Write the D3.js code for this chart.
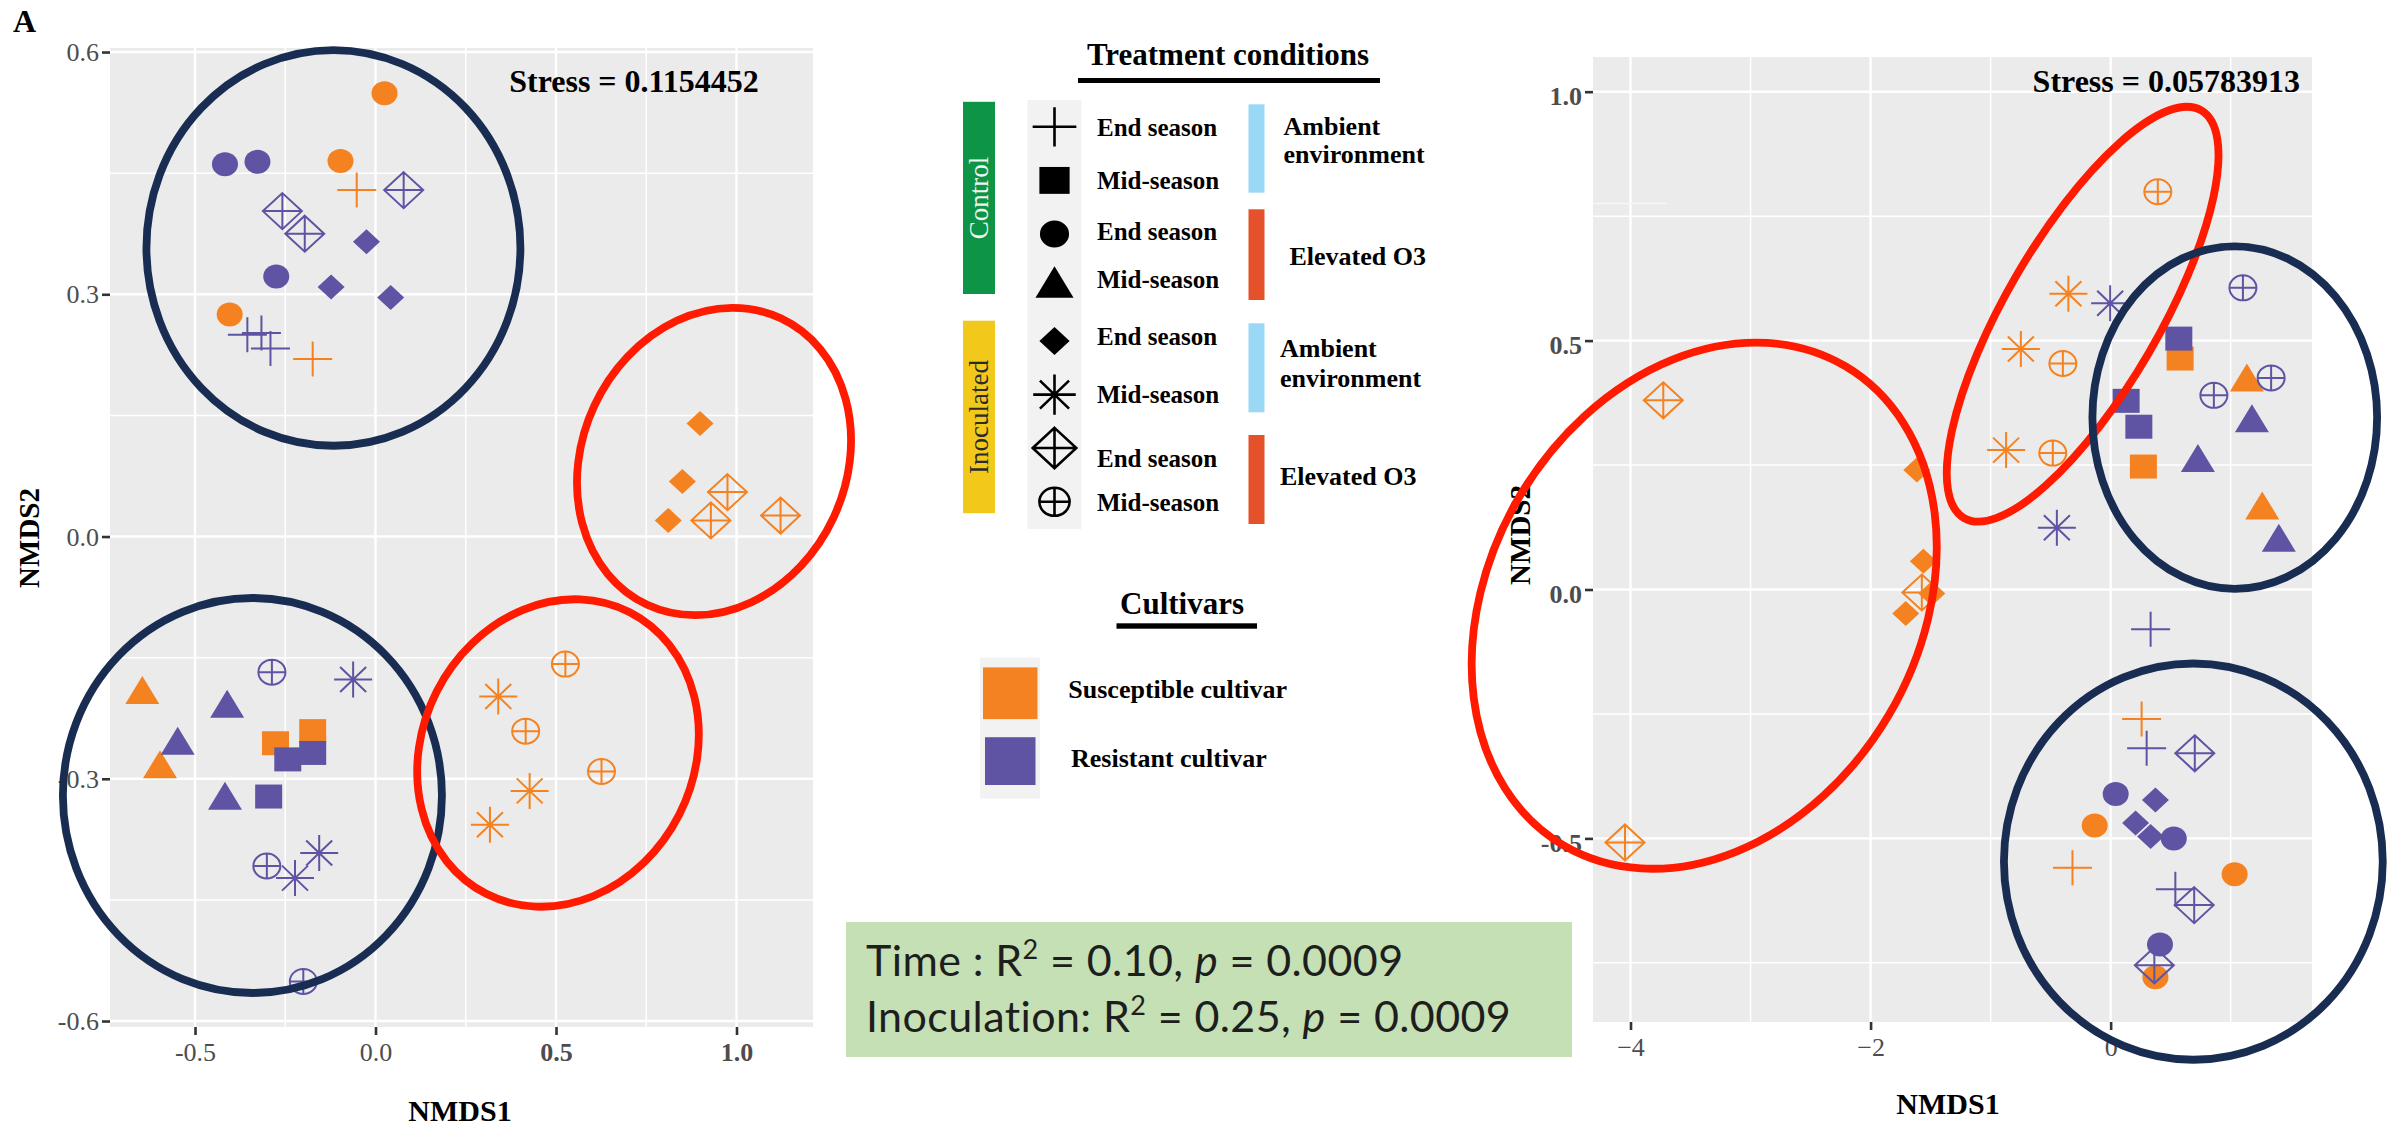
<!DOCTYPE html>
<html>
<head>
<meta charset="utf-8">
<script src="https://cdn.jsdelivr.net/npm/d3@7"></script>
<style>
  body { margin: 0; background: #fff; }
  svg { display: block; }
</style>
</head>
<body>
<svg id="chart" width="2387" height="1127"></svg>
<script>
const width = 2387
const height = 1127

const serif = '"Liberation Serif", "Times New Roman", serif'

// cultivar colours
const cultivarNames = ['Susceptible cultivar', 'Resistant cultivar']
const cultivarColors = { S: '#f58220', R: '#5e54a3' }

// points: [NMDS1, NMDS2, cultivar, shape]
const leftPoints = [
  [0.025, 0.549, 'S', 'circle'], [-0.097, 0.465, 'S', 'circle'], [-0.404, 0.275, 'S', 'circle'],
  [-0.052, 0.429, 'S', 'plus'], [-0.174, 0.220, 'S', 'plus'],
  [0.899, 0.140, 'S', 'diamond'], [0.850, 0.068, 'S', 'diamond'], [0.811, 0.020, 'S', 'diamond'],
  [0.975, 0.055, 'S', 'diamondPlus'], [0.929, 0.020, 'S', 'diamondPlus'], [1.122, 0.026, 'S', 'diamondPlus'],
  [-0.646, -0.190, 'S', 'triangle'], [-0.597, -0.282, 'S', 'triangle'],
  [-0.277, -0.256, 'S', 'square'], [-0.174, -0.241, 'S', 'square'],
  [0.526, -0.158, 'S', 'circlePlus'], [0.416, -0.241, 'S', 'circlePlus'], [0.626, -0.291, 'S', 'circlePlus'],
  [0.340, -0.198, 'S', 'asterisk'], [0.427, -0.315, 'S', 'asterisk'], [0.317, -0.357, 'S', 'asterisk'],
  [-0.417, 0.461, 'R', 'circle'], [-0.327, 0.464, 'R', 'circle'], [-0.275, 0.322, 'R', 'circle'],
  [0.078, 0.429, 'R', 'diamondPlus'], [-0.258, 0.403, 'R', 'diamondPlus'], [-0.196, 0.375, 'R', 'diamondPlus'],
  [-0.025, 0.365, 'R', 'diamond'], [-0.123, 0.309, 'R', 'diamond'], [0.042, 0.296, 'R', 'diamond'],
  [-0.355, 0.250, 'R', 'plus'], [-0.316, 0.252, 'R', 'plus'], [-0.291, 0.233, 'R', 'plus'],
  [-0.287, -0.168, 'R', 'circlePlus'], [-0.301, -0.408, 'R', 'circlePlus'], [-0.200, -0.551, 'R', 'circlePlus'],
  [-0.062, -0.177, 'R', 'asterisk'], [-0.223, -0.423, 'R', 'asterisk'], [-0.156, -0.392, 'R', 'asterisk'],
  [-0.411, -0.207, 'R', 'triangle'], [-0.548, -0.253, 'R', 'triangle'], [-0.417, -0.321, 'R', 'triangle'],
  [-0.243, -0.276, 'R', 'square'], [-0.174, -0.268, 'R', 'square'], [-0.296, -0.322, 'R', 'square']
]

const rightPoints = [
  [0.393, 0.799, 'S', 'circlePlus'], [-0.398, 0.454, 'S', 'circlePlus'], [-0.482, 0.274, 'S', 'circlePlus'],
  [-0.352, 0.594, 'S', 'asterisk'], [-0.748, 0.483, 'S', 'asterisk'], [-0.871, 0.280, 'S', 'asterisk'],
  [0.579, 0.464, 'S', 'square'], [0.273, 0.247, 'S', 'square'],
  [1.135, 0.426, 'S', 'triangle'], [1.263, 0.169, 'S', 'triangle'],
  [-1.615, 0.240, 'S', 'diamond'], [-1.560, 0.057, 'S', 'diamond'], [-1.490, -0.008, 'S', 'diamond'], [-1.707, -0.048, 'S', 'diamond'],
  [-3.727, 0.380, 'S', 'diamondPlus'], [-1.573, -0.006, 'S', 'diamondPlus'], [-4.046, -0.508, 'S', 'diamondPlus'],
  [0.258, -0.260, 'S', 'plus'], [-0.318, -0.559, 'S', 'plus'],
  [-0.133, -0.474, 'S', 'circle'], [1.033, -0.572, 'S', 'circle'], [0.373, -0.779, 'S', 'circle'],
  [-0.004, 0.575, 'R', 'asterisk'], [-0.448, 0.124, 'R', 'asterisk'],
  [1.102, 0.606, 'R', 'circlePlus'], [0.860, 0.390, 'R', 'circlePlus'], [1.337, 0.425, 'R', 'circlePlus'],
  [0.568, 0.504, 'R', 'square'], [0.129, 0.379, 'R', 'square'], [0.235, 0.327, 'R', 'square'],
  [1.177, 0.344, 'R', 'triangle'], [0.727, 0.264, 'R', 'triangle'], [1.401, 0.104, 'R', 'triangle'],
  [0.333, -0.080, 'R', 'plus'], [0.300, -0.319, 'R', 'plus'], [0.539, -0.602, 'R', 'plus'],
  [0.701, -0.329, 'R', 'diamondPlus'], [0.696, -0.634, 'R', 'diamondPlus'], [0.364, -0.755, 'R', 'diamondPlus'],
  [0.042, -0.411, 'R', 'circle'], [0.526, -0.500, 'R', 'circle'], [0.411, -0.713, 'R', 'circle'],
  [0.373, -0.423, 'R', 'diamond'], [0.208, -0.469, 'R', 'diamond'], [0.333, -0.496, 'R', 'diamond']
]

// group ellipses: [cx, cy, rx, ry (data units), rotation in degrees, colour]
const leftEllipses = [
  [-0.1166, 0.3574, 0.518, 0.245, 0, 'navy'],
  [-0.341, -0.3207, 0.525, 0.2446, 0, 'navy'],
  [0.9377, 0.0929, 0.3657, 0.1957, 25, 'red'],
  [0.5055, -0.2681, 0.3767, 0.1957, 27, 'red']
]
const rightEllipses = [
  [-3.386, -0.0325, 1.7875, 0.5583, 30.5, 'red'],
  [-0.2333, 0.553, 0.639, 0.4737, 30.2, 'red'],
  [1.034, 0.3453, 1.186, 0.344, 0, 'navy'],
  [0.689, -0.5466, 1.578, 0.398, 0, 'navy']
]

const leftXTicks = [-0.5, 0, 0.5, 1.0]
const leftYTicks = [-0.6, -0.3, 0, 0.3, 0.6]
const rightXTicks = [-4, -2, 0]
const rightYTicks = [-0.5, 0, 0.5, 1.0]

const leftStress = 'Stress = 0.1154452'
const rightStress = 'Stress = 0.05783913'

// legend content
const treatmentShapes = ['plus', 'square', 'circle', 'triangle', 'diamond', 'asterisk', 'diamondPlus', 'circlePlus']
const treatmentLabels = ['End season', 'Mid-season', 'End season', 'Mid-season', 'End season', 'Mid-season', 'End season', 'Mid-season']
const inoculationGroups = ['Control', 'Inoculated']
const environmentGroups = [['Ambient', 'environment'], ['Elevated O3'], ['Ambient', 'environment'], ['Elevated O3']]

const statLines = [
  { name: 'Time : R', r2: '0.10', p: '0.0009' },
  { name: 'Inoculation: R', r2: '0.25', p: '0.0009' }
]

const ellipseColors = { navy: '#192c52', red: '#ff1a00' }

const svg = d3.select('#chart')

// symbol paths, centred on 0,0
function shapePath(type, k) {
  const e = (rx, ry) => `M${-rx},0A${rx},${ry} 0 1,0 ${rx},0A${rx},${ry} 0 1,0 ${-rx},0Z`
  const cross = (hx, hy) => `M${-hx},0H${hx}M0,${-hy}V${hy}`
  switch (type) {
    case 'circle': return e(13 * k, 12 * k)
    case 'square': return `M${-13.5 * k},${-12 * k}h${27 * k}v${24 * k}h${-27 * k}Z`
    case 'triangle': return `M0,${-14 * k}L${17 * k},${14 * k}H${-17 * k}Z`
    case 'diamond': return `M0,${-12.5 * k}L${13.5 * k},0L0,${12.5 * k}L${-13.5 * k},0Z`
    case 'diamondPlus': return `M0,${-18 * k}L${19.5 * k},0L0,${18 * k}L${-19.5 * k},0Z` + cross(19.5 * k, 18 * k)
    case 'circlePlus': return e(13.5 * k, 12.5 * k) + cross(13.5 * k, 12.5 * k)
    case 'asterisk': return cross(19 * k, 18 * k) +
      `M${-13 * k},${-12.5 * k}L${13 * k},${12.5 * k}M${-13 * k},${12.5 * k}L${13 * k},${-12.5 * k}`
    case 'plus': return cross(19.5 * k, 17.5 * k)
  }
}
const filledShapes = ['circle', 'square', 'triangle', 'diamond']

function drawPanel(cfg) {
  const x = d3.scaleLinear().domain(cfg.xDomain).range([cfg.left, cfg.right])
  const y = d3.scaleLinear().domain(cfg.yDomain).range([cfg.bottom, cfg.top])
  const g = svg.append('g')

  g.append('rect')
    .attr('x', cfg.left).attr('y', cfg.top)
    .attr('width', cfg.right - cfg.left).attr('height', cfg.bottom - cfg.top)
    .attr('fill', '#ebebeb')

  // minor grid halfway between the breaks
  const minors = (ticks, domain) => {
    const step = ticks[1] - ticks[0]
    const out = []
    for (let v = ticks[0] - step / 2; v < domain[1]; v += step) {
      if (v > domain[0]) out.push(v)
    }
    return out
  }
  g.selectAll('.xminor').data(minors(cfg.xTicks, cfg.xDomain)).join('line')
    .attr('x1', d => x(d)).attr('x2', d => x(d)).attr('y1', cfg.top).attr('y2', cfg.bottom)
    .attr('stroke', '#fff').attr('stroke-width', 1.5)
  g.selectAll('.yminor').data(minors(cfg.yTicks, cfg.yDomain)).join('line')
    .attr('y1', d => y(d)).attr('y2', d => y(d)).attr('x1', cfg.left).attr('x2', cfg.right)
    .attr('stroke', '#fff').attr('stroke-width', 1.5)
  g.selectAll('.xmajor').data(cfg.xTicks).join('line')
    .attr('x1', d => x(d)).attr('x2', d => x(d)).attr('y1', cfg.top).attr('y2', cfg.bottom)
    .attr('stroke', '#fff').attr('stroke-width', 2.4)
  g.selectAll('.ymajor').data(cfg.yTicks).join('line')
    .attr('y1', d => y(d)).attr('y2', d => y(d)).attr('x1', cfg.left).attr('x2', cfg.right)
    .attr('stroke', '#fff').attr('stroke-width', 2.4)

  // axes
  const styleAxis = (a, bold) => {
    a.select('.domain').remove()
    a.selectAll('.tick line').attr('stroke', '#333').attr('stroke-width', 2.6)
    a.selectAll('.tick text')
      .attr('fill', '#4d4d4d')
      .style('font-family', serif)
      .style('font-size', '26px')
      .style('font-weight', d => bold(d) ? 'bold' : 'normal')
  }
  const xa = g.append('g')
    .attr('transform', `translate(0,${cfg.bottom})`)
    .call(d3.axisBottom(x).tickValues(cfg.xTicks).tickSize(8).tickPadding(8).tickFormat(cfg.xFormat))
  styleAxis(xa, cfg.xBold)
  xa.selectAll('.tick text').attr('dy', cfg.xDy)
  const ya = g.append('g')
    .attr('transform', `translate(${cfg.left},0)`)
    .call(d3.axisLeft(y).tickValues(cfg.yTicks).tickSize(8).tickPadding(3).tickFormat(cfg.yFormat))
  styleAxis(ya, cfg.yBold)
  ya.selectAll('.tick text').attr('dy', cfg.yDy)

  g.append('text')
    .attr('x', cfg.xTitle[0]).attr('y', cfg.xTitle[1])
    .attr('text-anchor', 'middle')
    .style('font-family', serif).style('font-weight', 'bold').style('font-size', '30px')
    .text('NMDS1')
  g.append('text')
    .attr('transform', `translate(${cfg.yTitle[0]},${cfg.yTitle[1]}) rotate(-90)`)
    .attr('text-anchor', 'middle')
    .style('font-family', serif).style('font-weight', 'bold').style('font-size', '29px')
    .text('NMDS2')

  if (cfg.extra) cfg.extra(g, x, y)

  // points
  g.selectAll('.pt').data(cfg.points).join('path')
    .attr('transform', d => `translate(${x(d[0])},${y(d[1])})`)
    .attr('d', d => shapePath(d[3], 1))
    .attr('fill', d => filledShapes.includes(d[3]) ? cultivarColors[d[2]] : 'none')
    .attr('stroke', d => filledShapes.includes(d[3]) ? 'none' : cultivarColors[d[2]])
    .attr('stroke-width', 2)

  // ellipses over everything
  const kx = Math.abs(x(1) - x(0)), ky = Math.abs(y(1) - y(0))
  g.selectAll('.ell').data(cfg.ellipses).join('ellipse')
    .attr('transform', d => `translate(${x(d[0])},${y(d[1])}) rotate(${d[4]})`)
    .attr('rx', d => d[2] * kx).attr('ry', d => d[3] * ky)
    .attr('fill', 'none')
    .attr('stroke', d => ellipseColors[d[5]])
    .attr('stroke-width', 7.8)

  g.append('text')
    .attr('x', cfg.stressPos[0]).attr('y', cfg.stressPos[1])
    .attr('text-anchor', cfg.stressAnchor)
    .style('font-family', serif).style('font-weight', 'bold').style('font-size', '32px')
    .text(cfg.stress)
}

drawPanel({
  left: 110, right: 813, top: 48, bottom: 1027,
  xDomain: [-0.7355, 1.2119], yDomain: [-0.6074, 0.605],
  xTicks: leftXTicks, yTicks: leftYTicks,
  xFormat: d => d.toFixed(1), yFormat: d => d.toFixed(1),
  xBold: d => d >= 0.5, yBold: d => false,
  xDy: '0.71em', yDy: '0.33em',
  xTitle: [460, 1121], yTitle: [39, 538],
  points: leftPoints, ellipses: leftEllipses,
  stress: leftStress, stressPos: [634, 92], stressAnchor: 'middle'
})

drawPanel({
  left: 1593, right: 2312, top: 57, bottom: 1022,
  xDomain: [-4.3125, 1.6775], yDomain: [-0.8688, 1.0697],
  xTicks: rightXTicks, yTicks: rightYTicks,
  xFormat: d3.format('d'), yFormat: d => d.toFixed(1),
  xBold: d => false, yBold: d => true,
  xDy: '0.71em', yDy: '0.5em',
  xTitle: [1948, 1114], yTitle: [1530, 535],
  points: rightPoints, ellipses: rightEllipses,
  stress: rightStress, stressPos: [2300, 92], stressAnchor: 'end',
  extra: (g, x, y) => {
    // stray light line left in the source image
    g.append('line').attr('x1', 1593).attr('x2', 1667).attr('y1', 203.5).attr('y2', 203.5)
      .attr('stroke', '#f7f7f7').attr('stroke-width', 1.5)
  }
})

// panel tag
svg.append('text').attr('x', 13).attr('y', 32)
  .style('font-family', serif).style('font-weight', 'bold').style('font-size', '32px')
  .text('A')

// ---- treatment legend ----
const leg = svg.append('g')
leg.append('text').attr('x', 1228).attr('y', 65).attr('text-anchor', 'middle')
  .style('font-family', serif).style('font-weight', 'bold').style('font-size', '31px')
  .text('Treatment conditions')
leg.append('rect').attr('x', 1078).attr('y', 78).attr('width', 302).attr('height', 5).attr('fill', '#000')

const groupBars = [[101.8, 294, '#0e9447', '#eef4ee'], [320.7, 513.2, '#f2c81a', '#2b2b2b']]
groupBars.forEach((b, i) => {
  leg.append('rect').attr('x', 963).attr('y', b[0]).attr('width', 32).attr('height', b[1] - b[0]).attr('fill', b[2])
  leg.append('text')
    .attr('transform', `translate(979,${(b[0] + b[1]) / 2}) rotate(-90)`)
    .attr('text-anchor', 'middle').attr('dy', '0.35em')
    .style('font-family', serif).style('font-size', '27px').attr('fill', b[3])
    .text(inoculationGroups[i])
})

leg.append('rect').attr('x', 1027.5).attr('y', 100).attr('width', 54).attr('height', 429).attr('fill', '#f2f2f2')
const symY = [126.8, 180.4, 234, 282, 341, 394.6, 448, 501.8]
const labY = [136, 189.3, 240, 288.3, 345, 403.3, 466.7, 510.7]
leg.selectAll('.sym').data(treatmentShapes).join('path')
  .attr('transform', (d, i) => `translate(1054.5,${symY[i]})`)
  .attr('d', d => shapePath(d, 1.12))
  .attr('fill', d => filledShapes.includes(d) ? '#000' : 'none')
  .attr('stroke', d => filledShapes.includes(d) ? 'none' : '#000')
  .attr('stroke-width', 2.6)
leg.selectAll('.lab').data(treatmentLabels).join('text')
  .attr('x', 1097).attr('y', (d, i) => labY[i])
  .style('font-family', serif).style('font-weight', 'bold').style('font-size', '25px')
  .text(d => d)

const envBars = [[104.3, 192.7, '#9ad9f5'], [209.3, 300, '#e5512a'], [323.3, 412.3, '#9ad9f5'], [435, 524, '#e5512a']]
const envLabelPos = [[1283.5, [135, 163.3]], [1289.5, [265]], [1280, [356.7, 386.7]], [1280, [485]]]
envBars.forEach((b, i) => {
  leg.append('rect').attr('x', 1248.5).attr('y', b[0]).attr('width', 16).attr('height', b[1] - b[0]).attr('fill', b[2])
  environmentGroups[i].forEach((t, j) => {
    leg.append('text').attr('x', envLabelPos[i][0]).attr('y', envLabelPos[i][1][j])
      .style('font-family', serif).style('font-weight', 'bold').style('font-size', '26px')
      .text(t)
  })
})

// ---- cultivar legend ----
leg.append('text').attr('x', 1182).attr('y', 614).attr('text-anchor', 'middle')
  .style('font-family', serif).style('font-weight', 'bold').style('font-size', '31px')
  .text('Cultivars')
leg.append('rect').attr('x', 1116.5).attr('y', 623.3).attr('width', 140.5).attr('height', 5.4).attr('fill', '#000')
leg.append('rect').attr('x', 980).attr('y', 657.6).attr('width', 60).attr('height', 141).attr('fill', '#f2f2f2')
const cultKeys = [[983, 667.4, 54.5, 51.7, 1068.3, 698], [985, 737.2, 50.5, 47.8, 1071, 767]]
cultivarNames.forEach((name, i) => {
  const k = cultKeys[i]
  leg.append('rect').attr('x', k[0]).attr('y', k[1]).attr('width', k[2]).attr('height', k[3])
    .attr('fill', cultivarColors[i ? 'R' : 'S'])
  leg.append('text').attr('x', k[4]).attr('y', k[5])
    .style('font-family', serif).style('font-weight', 'bold').style('font-size', '26px')
    .text(name)
})

// ---- PERMANOVA box ----
svg.append('rect').attr('x', 846).attr('y', 922).attr('width', 726).attr('height', 135).attr('fill', '#c5e0b4')
const statBase = [976, 1032]
statLines.forEach((s, i) => {
  const t = svg.append('text').attr('x', 866).attr('y', statBase[i])
    .style('font-family', 'Lato, "Open Sans", sans-serif').style('font-size', '43px')
    .style('letter-spacing', '0.4px').attr('fill', '#1e1e1e')
  t.append('tspan').text(s.name)
  t.append('tspan').attr('dy', -17).style('font-size', '27px').text('2')
  t.append('tspan').attr('dy', 17).text(` = ${s.r2}, `)
  t.append('tspan').style('font-style', 'italic').text('p')
  t.append('tspan').text(` = ${s.p}`)
})
</script>
</body>
</html>
